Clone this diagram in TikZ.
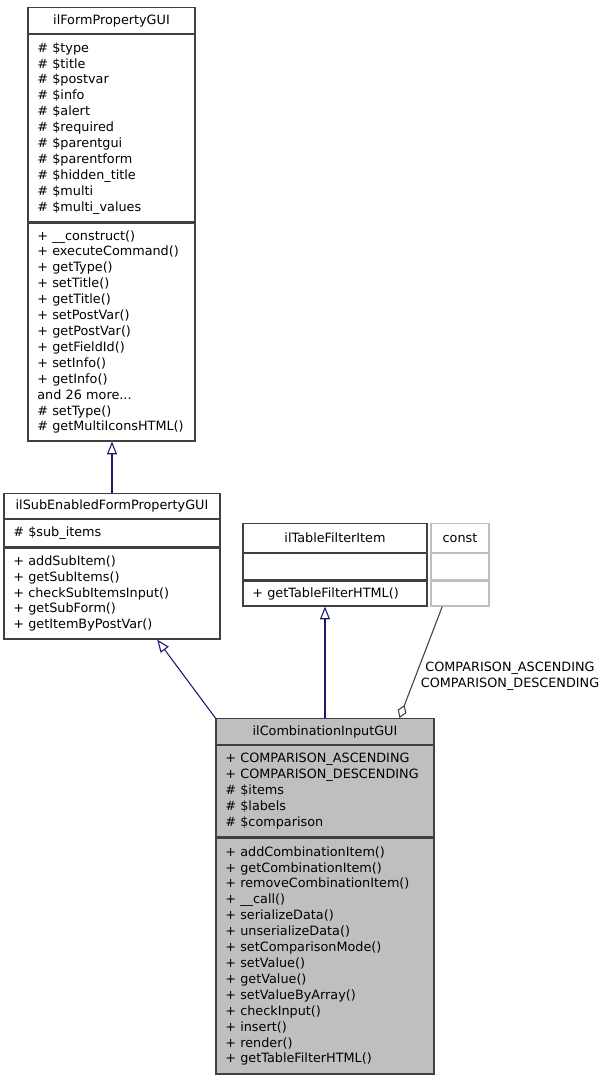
\documentclass[tikz,border=0pt]{standalone}
\usepackage{fontspec}
\setmainfont{DejaVu Sans}
\usepackage{xcolor}
\usepackage{tikz}
\usetikzlibrary{arrows.meta, positioning, calc}

\definecolor{edgeblue}{HTML}{191970}
\definecolor{boxgray}{HTML}{BFBFBF}
\definecolor{boxline}{HTML}{404040}

\newcommand{\classfont}{\fontsize{9.6pt}{11.93pt}\selectfont}

\begin{document}
\begin{tikzpicture}[x=0.75pt, y=-0.75pt,
    classpart/.style={draw=boxline, line width=0.9pt, rectangle, inner xsep=7pt, inner ysep=0pt, font=\classfont, anchor=north},
    classtitle/.style={classpart, align=center},
    classlist/.style={classpart, align=left},
    inherit/.style={draw=edgeblue, line width=0.8pt, -{Triangle[open, length=9.5pt, width=7.5pt, fill=white]}},
    aggr/.style={draw=boxline, line width=0.8pt, -{Diamond[open, length=10.5pt, width=7pt, fill=white]}}
]

    \useasboundingbox (0,0) rectangle (607,1077);

    % ilFormPropertyGUI
    \node[classtitle, text width=111.25pt, minimum height=19.5pt] (fpg-title) at (111.5,7) {ilFormPropertyGUI};
    \node[classlist, text width=111.25pt, minimum height=140.25pt, below=0pt of fpg-title] (fpg-attr)
        {\# \$type\\\# \$title\\\# \$postvar\\\# \$info\\\# \$alert\\\# \$required\\\# \$parentgui\\\# \$parentform\\\# \$hidden\_title\\\# \$multi\\\# \$multi\_values};
    \node[classlist, text width=111.25pt, minimum height=163.5pt, below=0pt of fpg-attr] (fpg-meth)
        {+ \_\_construct()\\+ executeCommand()\\+ getType()\\+ setTitle()\\+ getTitle()\\+ setPostVar()\\+ getPostVar()\\+ getFieldId()\\+ setInfo()\\+ getInfo()\\and 26 more...\\\# setType()\\\# getMultiIconsHTML()};

    % ilSubEnabledFormPropertyGUI
    \node[classtitle, text width=148pt, minimum height=18.75pt] (sefpg-title) at (112,493) {ilSubEnabledFormPropertyGUI};
    \node[classlist, text width=148pt, minimum height=20.25pt, below=0pt of sefpg-title] (sefpg-attr) {\# \$sub\_items};
    \node[classlist, text width=148pt, minimum height=68.25pt, below=0pt of sefpg-attr] (sefpg-meth)
        {+ addSubItem()\\+ getSubItems()\\+ checkSubItemsInput()\\+ getSubForm()\\+ getItemByPostVar()};

    % ilTableFilterItem
    \node[classtitle, text width=124pt, minimum height=21.75pt] (tfi-title) at (335,523) {ilTableFilterItem};
    \node[classlist, text width=124pt, minimum height=19.5pt, below=0pt of tfi-title] (tfi-attr) {};
    \node[classlist, text width=124pt, minimum height=18.75pt, below=0pt of tfi-attr] (tfi-meth) {+ getTableFilterHTML()};

    % const
    \node[classtitle, draw=boxgray, text width=29.5pt, minimum height=21.75pt] (const-title) at (460,523) {const};
    \node[classlist, draw=boxgray, text width=29.5pt, minimum height=19.5pt, below=0pt of const-title] (const-attr) {};
    \node[classlist, draw=boxgray, text width=29.5pt, minimum height=18.75pt, below=0pt of const-attr] (const-meth) {};

    % ilCombinationInputGUI
    \node[classtitle, fill=boxgray, text width=149.5pt, minimum height=19.5pt] (cig-title) at (325,718) {ilCombinationInputGUI};
    \node[classlist, fill=boxgray, text width=149.5pt, minimum height=68.25pt, below=0pt of cig-title] (cig-attr)
        {+ COMPARISON\_ASCENDING\\+ COMPARISON\_DESCENDING\\\# \$items\\\# \$labels\\\# \$comparison};
    \node[classlist, fill=boxgray, text width=149.5pt, minimum height=177pt, below=0pt of cig-attr] (cig-meth)
        {+ addCombinationItem()\\+ getCombinationItem()\\+ removeCombinationItem()\\+ \_\_call()\\+ serializeData()\\+ unserializeData()\\+ setComparisonMode()\\+ setValue()\\+ getValue()\\+ setValueByArray()\\+ checkInput()\\+ insert()\\+ render()\\+ getTableFilterHTML()};

    % inheritance
    \draw[inherit] (sefpg-title.north) -- (sefpg-title.north |- fpg-meth.south);
    \draw[inherit] (cig-title.north west) -- ($(sefpg-meth.south west)!0.708!(sefpg-meth.south east)$);
    \draw[inherit] (cig-title.north) -- (cig-title.north |- tfi-meth.south);

    % aggregation of the constants
    \draw[aggr] ($(const-meth.south west)!0.2!(const-meth.south east)$) -- ($(cig-title.north west)!0.84!(cig-title.north east)$);
    \node[font=\classfont, align=center] (cmp-label) at (510,676) {COMPARISON\_ASCENDING\\COMPARISON\_DESCENDING};

\end{tikzpicture}
\end{document}
